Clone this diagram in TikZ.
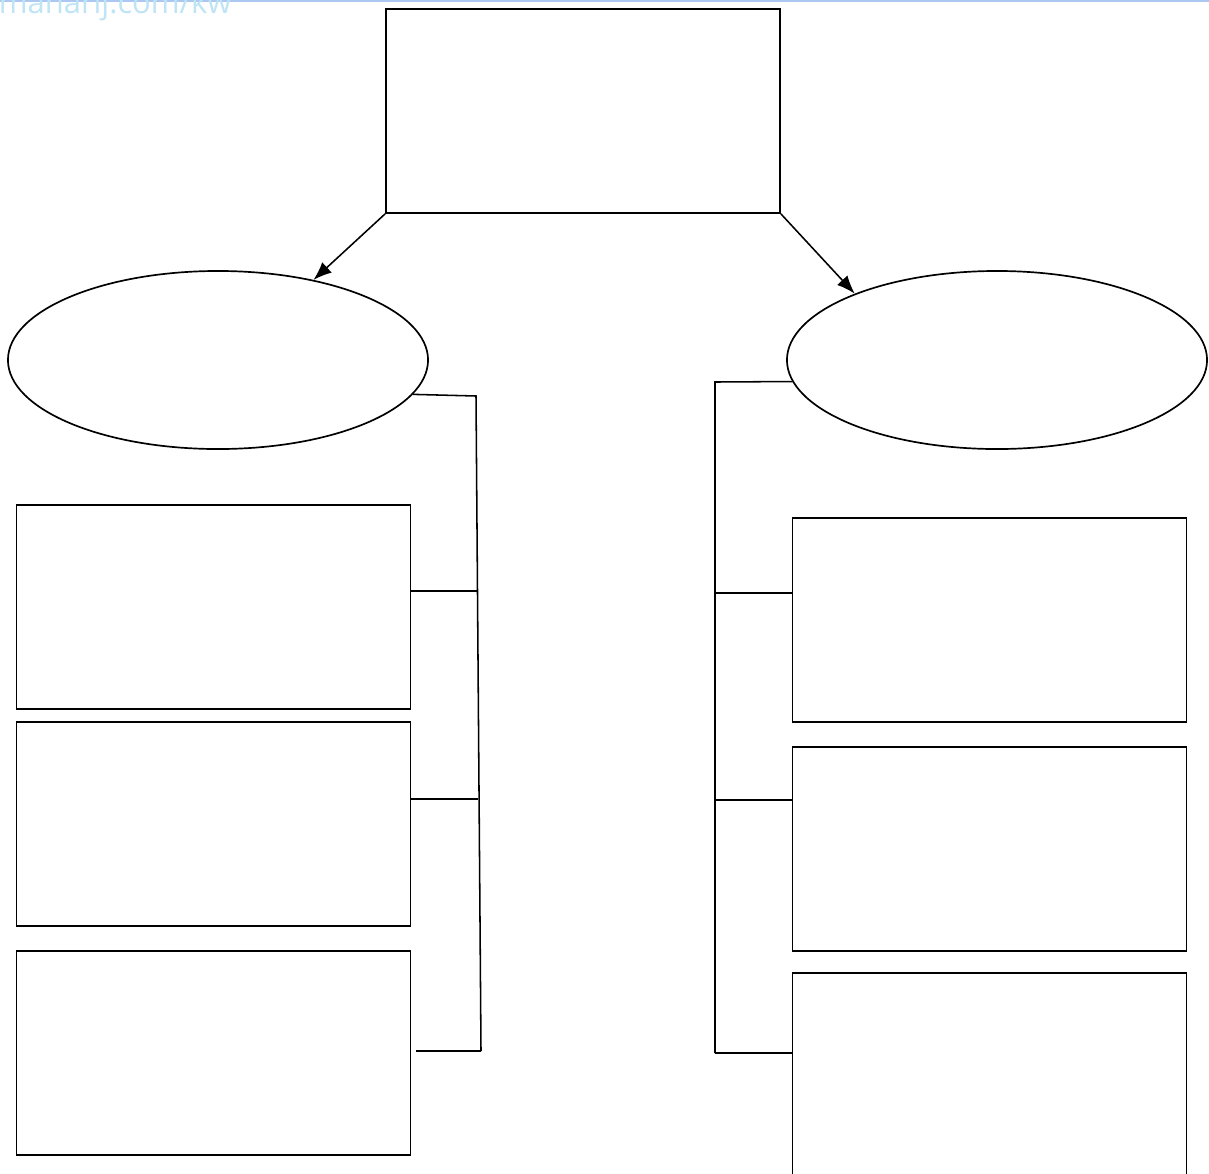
\documentclass[tikz,border=0pt]{standalone}
\usepackage{fontspec}
\newfontfamily\markfont{Open Sans}
\usetikzlibrary{shapes.geometric,arrows.meta}
\definecolor{markblue}{RGB}{190,228,246}
\definecolor{edgeblue}{RGB}{172,200,240}

\tikzset{
	box/.style={draw, rectangle, minimum width=9.85cm, minimum height=5.1cm, inner sep=0pt},
	oval/.style={draw, ellipse, minimum width=10.5cm, minimum height=4.45cm, inner sep=0pt},
	link/.style={line width=1.1pt},
	point/.style={-{Latex[length=13pt,width=10pt]}, line width=1.1pt}
}

\begin{document}
\begin{tikzpicture}[x=0.025cm, y=-0.025cm, line width=1.2pt]
	\useasboundingbox (0,0) rectangle (1209,1173);
	\draw[edgeblue, line width=1pt] (0,1) -- (1209,1);
	\node[markblue, anchor=base west, inner sep=0pt, font=\markfont\fontsize{22}{22}\selectfont] (mark) at (-2,13) {manarij.com/kw};

	\node[box] (top) at (583,111) {};
	\node[oval] (lell) at (218,360) {};
	\node[oval] (rell) at (997,360) {};

	\node[box] (lbox1) at (213.5,607) {};
	\node[box] (lbox2) at (213.5,824) {};
	\node[box] (lbox3) at (213.5,1053) {};
	\node[box] (rbox1) at (989.5,620) {};
	\node[box] (rbox2) at (989.5,849) {};
	\node[box] (rbox3) at (989.5,1075) {};

	\draw[point] (top.south west) -- (lell.40.6);
	\draw[point] (top.south east) -- (rell.155);

	% left bracket
	\coordinate (lj0) at (476,396);
	\coordinate (lj1) at (477,591);
	\coordinate (lj2) at (478,799);
	\coordinate (lj3) at (481,1051);
	\draw[link] (lell.-10) -- (lj0) -- (lj3);
	\draw[link] (lbox1.east |- lj1) -- (lj1);
	\draw[link] (lbox2.east |- lj2) -- (lj2);
	\draw[link] ([xshift=0.125cm]lbox3.east |- lj3) -- (lj3);

	% right bracket
	\coordinate (rj0) at (715,382);
	\coordinate (rj1) at (715,593);
	\coordinate (rj2) at (715,800);
	\coordinate (rj3) at (715,1053);
	\draw[link] (rell.186) -- (rj0) -- (rj3);
	\draw[link] (rj1) -- (rbox1.west |- rj1);
	\draw[link] (rj2) -- (rbox2.west |- rj2);
	\draw[link] (rj3) -- (rbox3.west |- rj3);
\end{tikzpicture}
\end{document}
